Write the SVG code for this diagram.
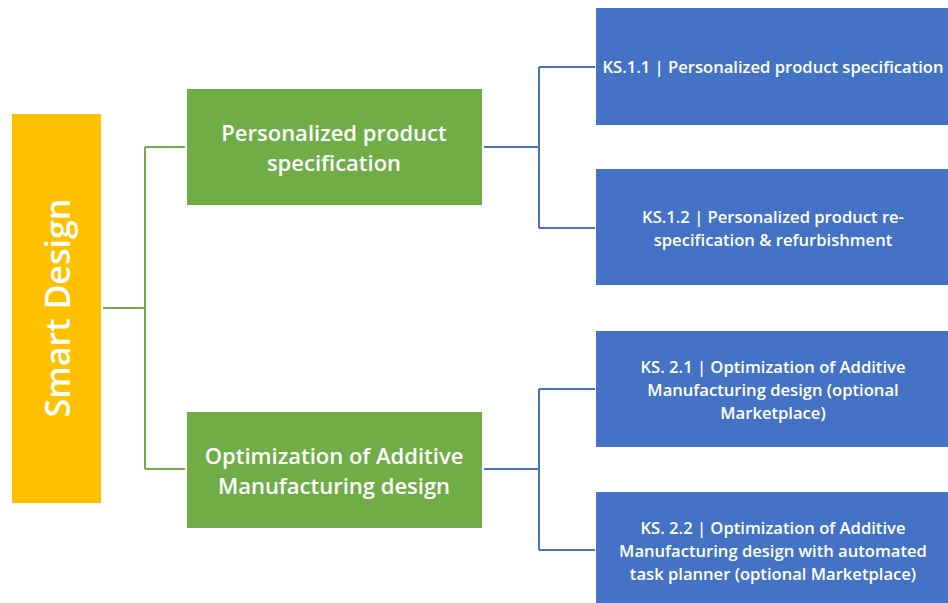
<svg xmlns="http://www.w3.org/2000/svg" width="948" height="603" viewBox="0 0 948 603">
<style>
.t{font-family:"Open Sans","Noto Sans",sans-serif;font-weight:600;fill:#fff;text-anchor:middle}
.g{fill:#70AD47}
.b{fill:#4472C4}
.cg{stroke:#70AD47;stroke-width:2;fill:none}
.cb{stroke:#4472C4;stroke-width:2;fill:none}
.s{font-size:22px}
.k{font-size:16.6px}
</style>
<rect width="948" height="603" fill="#fff"/>
<g id="connectors">
<path class="cg" d="M103 308H145M145 147V469M145 147H185M145 469H185"/>
<path class="cb" d="M484 147H539M539 67V228M539 67H595M539 228H595"/>
<path class="cb" d="M484 469H539M539 389V550M539 389H595M539 550H595"/>
</g>
<g id="smart-design">
<rect x="12" y="114" width="89" height="389" fill="#FFC000"/>
<text class="t" transform="translate(70 308) rotate(-90)" font-size="34">Smart Design</text>
</g>
<g id="pps">
<rect class="g" x="187" y="89" width="295" height="116"/>
<text class="t s" x="334" y="141">Personalized product</text>
<text class="t s" x="334" y="171">specification</text>
</g>
<g id="oam">
<rect class="g" x="187" y="412" width="295" height="116"/>
<text class="t s" x="334" y="464">Optimization of Additive</text>
<text class="t s" x="334" y="494">Manufacturing design</text>
</g>
<g id="ks11">
<rect class="b" x="596" y="8" width="360" height="117"/>
<text class="t k" x="773" y="73">KS.1.1 | Personalized product specification</text>
</g>
<g id="ks12">
<rect class="b" x="596" y="169" width="360" height="116"/>
<text class="t k" x="773" y="223">KS.1.2 | Personalized product re-</text>
<text class="t k" x="773" y="246">specification &amp; refurbishment</text>
</g>
<g id="ks21">
<rect class="b" x="596" y="331" width="360" height="116"/>
<text class="t k" x="773" y="373">KS. 2.1 | Optimization of Additive</text>
<text class="t k" x="773" y="396">Manufacturing design (optional</text>
<text class="t k" x="773" y="419">Marketplace)</text>
</g>
<g id="ks22">
<rect class="b" x="596" y="492" width="360" height="120"/>
<text class="t k" x="773" y="534">KS. 2.2 | Optimization of Additive</text>
<text class="t k" x="773" y="557">Manufacturing design with automated</text>
<text class="t k" x="773" y="580">task planner (optional Marketplace)</text>
</g>
</svg>
